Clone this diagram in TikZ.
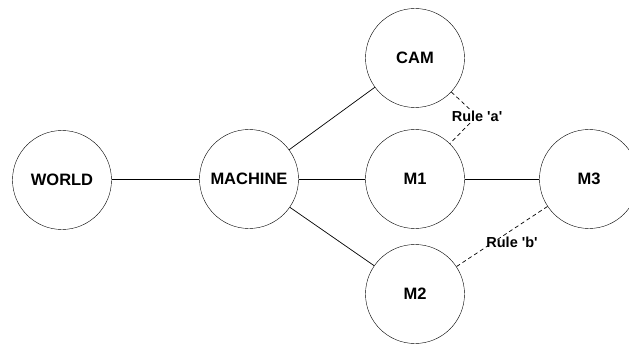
\documentclass[tikz,border=0pt]{standalone}
\usepackage{fontspec}
\newfontfamily\lib{Liberation Sans}
\begin{document}
\begin{tikzpicture}[x=1pt,y=-1pt,
  ent/.style={draw, circle, minimum size=99pt, inner sep=0pt, font=\lib\fontsize{16.5}{18}\selectfont\bfseries},
  rulelbl/.style={font=\lib\fontsize{14.5}{16}\selectfont\bfseries, inner sep=1.5pt},
  link/.style={line width=0.7pt},
  dlink/.style={line width=0.7pt, dashed, dash pattern=on 4pt off 3pt}]
\useasboundingbox (0,0) rectangle (629,350);
\clip (0,0) rectangle (629,350);
\node[ent] (world) at (62,180) {WORLD};
\node[ent] (machine) at (249,179) {MACHINE};
\node[ent] (cam) at (415,58) {CAM};
\node[ent] (m1) at (415,179) {M1};
\node[ent] (m3) at (589,179) {M3};
\node[ent] (m2) at (415,294) {M2};
\node[rulelbl] (ra) at (477,116) {Rule 'a'};
\draw[link] (world.east |- machine) -- (machine);
\draw[link] (machine) -- (cam);
\draw[link] (machine) -- (m1);
\draw[link] (machine) -- (m2);
\draw[link] (m1) -- (m3);
\draw[dlink] (cam) -- (ra);
\draw[dlink] (ra) -- (m1);
\draw[dlink] (m3) -- (m2);
\node[rulelbl] (rb) at (512,242) {Rule 'b'};
\end{tikzpicture}
\end{document}
